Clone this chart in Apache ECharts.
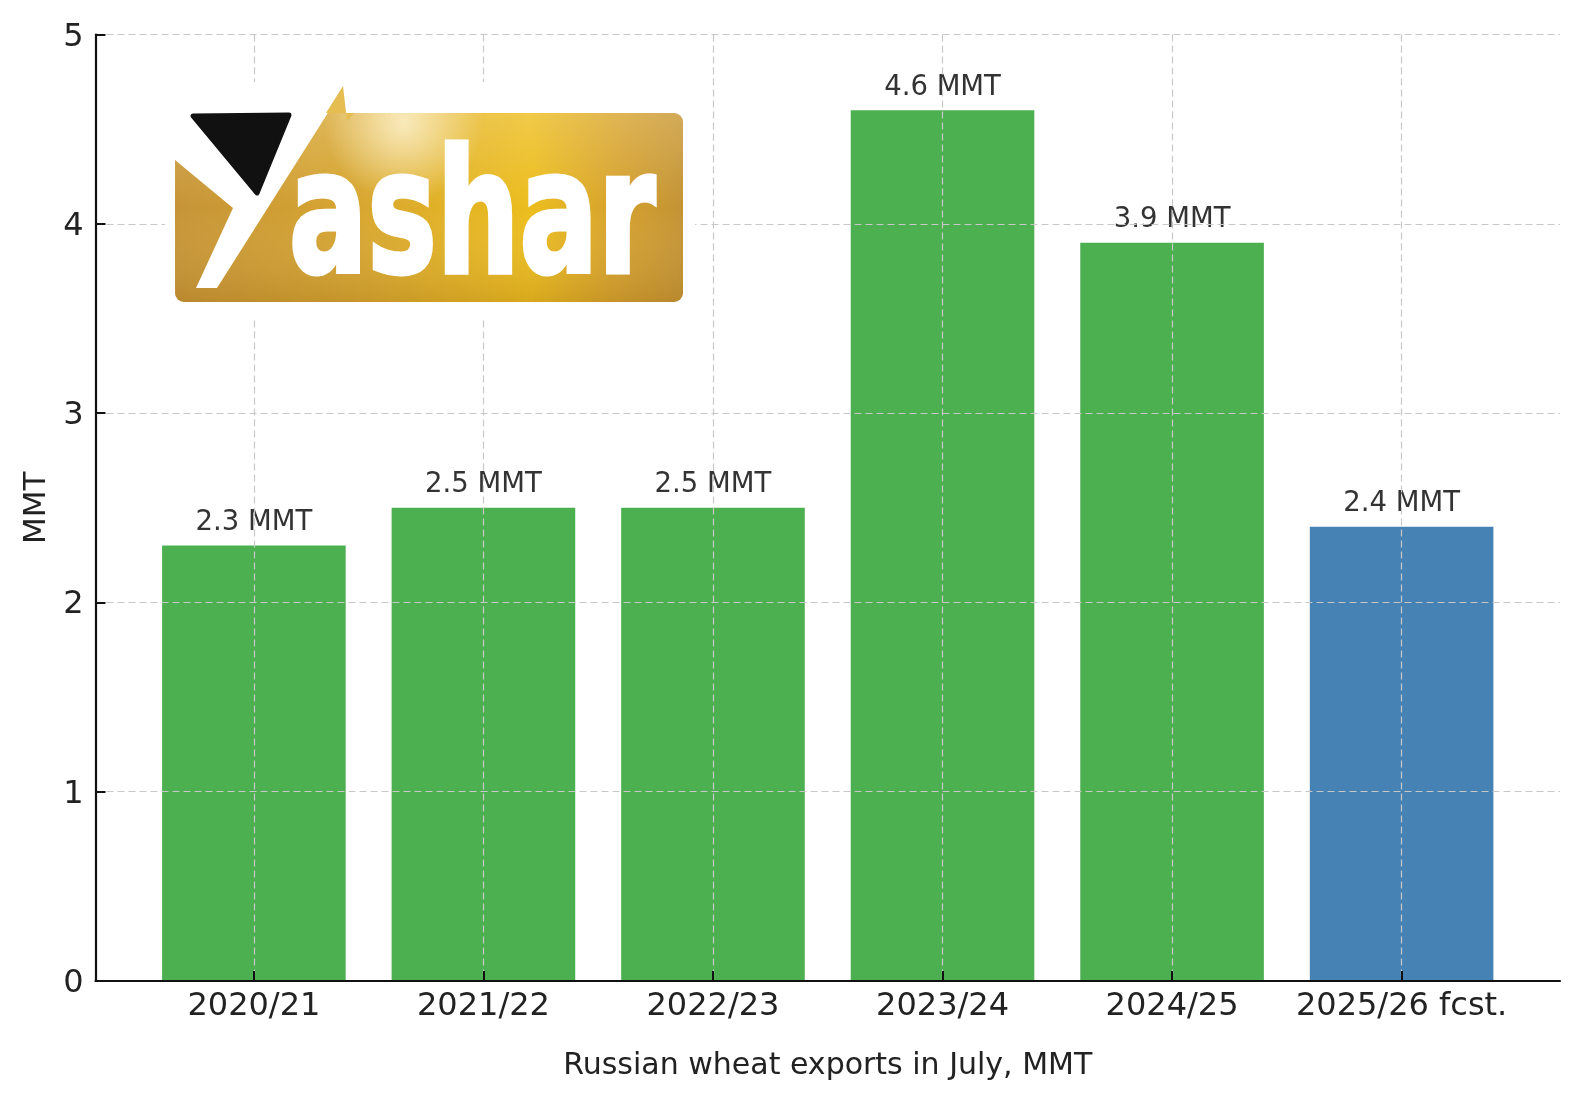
<!DOCTYPE html>
<html>
<head>
<meta charset="utf-8">
<script src="https://cdn.jsdelivr.net/npm/echarts@6/dist/echarts.min.js"></script>
<style>
html,body{margin:0;padding:0;background:#fff;}
#chart{width:1580px;height:1100px;}
</style>
</head>
<body>
<div id="chart"></div>
<script>
const categories = ['2020/21', '2021/22', '2022/23', '2023/24', '2024/25', '2025/26 fcst.'];
const exportsMMT = [2.3, 2.5, 2.5, 4.6, 3.9, 2.4];
const isForecast = [false, false, false, false, false, true];
const yTicks = [0, 1, 2, 3, 4, 5];

const GREEN = '#4caf50';
const BLUE = '#4682b4';
const FONT = '"DejaVu Sans", sans-serif';
const gridLine = { type: [7, 4], color: '#c8c8c8', width: 1.2 };
const xTickPos = categories.map((c, i) => i);

const chart = echarts.init(document.getElementById('chart'), null, { renderer: 'canvas' });

const option = {
  animation: false,
  backgroundColor: '#ffffff',
  grid: { left: 95.5, right: 20, top: 34.5, bottom: 119, containLabel: false },
  xAxis: {
    type: 'value',
    min: -0.69,
    max: 5.69,
    z: 5,
    name: 'Russian wheat exports in July, MMT',
    nameLocation: 'middle',
    nameGap: 70,
    nameTextStyle: { fontSize: 30, color: '#222', fontFamily: FONT },
    axisLine: { show: true, onZero: false, lineStyle: { color: '#111', width: 2.2 } },
    axisTick: { show: true, inside: true, length: 10, customValues: xTickPos, lineStyle: { color: '#111', width: 2 } },
    axisLabel: {
      customValues: xTickPos,
      formatter: v => categories[Math.round(v)],
      fontSize: 32, color: '#222', fontFamily: FONT, margin: 10
    },
    splitLine: { show: true, lineStyle: gridLine }
  },
  yAxis: {
    type: 'value',
    min: yTicks[0],
    max: yTicks[yTicks.length - 1],
    interval: 1,
    z: 5,
    name: 'MMT',
    nameLocation: 'middle',
    nameGap: 41,
    nameTextStyle: { fontSize: 31, color: '#222', fontFamily: FONT },
    axisLine: { show: true, onZero: false, lineStyle: { color: '#111', width: 2.2 } },
    axisTick: { show: true, inside: true, length: 10, lineStyle: { color: '#111', width: 2 } },
    axisLabel: { fontSize: 32, color: '#222', fontFamily: FONT, margin: 12, verticalAlign: 'top', lineHeight: 5.5 },
    splitLine: { show: true, lineStyle: gridLine }
  },
  series: [{
    type: 'bar',
    z: 2,
    barWidth: 183.6,
    data: exportsMMT.map((v, i) => ({ value: [i, v], itemStyle: { color: isForecast[i] ? BLUE : GREEN } })),
    label: {
      show: true,
      position: 'top',
      distance: 8.5,
      formatter: p => p.value[1].toFixed(1) + ' MMT',
      fontSize: 27.5,
      color: '#333',
      fontFamily: FONT
    }
  }],
  graphic: [
    { type: 'rect', z: 100, shape: { x: 165, y: 82, width: 530, height: 236 }, style: { fill: '#ffffff' } },
    { type: 'rect', z: 101, shape: { x: 175, y: 113, width: 508, height: 189, r: 9 },
      style: { fill: { type: 'linear', x: 0, y: 0, x2: 1, y2: 0, colorStops: [
        { offset: 0, color: '#c69436' }, { offset: 0.35, color: '#d6a530' },
        { offset: 0.7, color: '#ecbd1d' }, { offset: 0.88, color: '#d4a02e' }, { offset: 1, color: '#c39334' } ] } } },
    { type: 'rect', z: 102, shape: { x: 175, y: 113, width: 508, height: 189, r: 9 },
      style: { fill: { type: 'linear', x: 0, y: 0, x2: 0, y2: 1, colorStops: [
        { offset: 0, color: 'rgba(255,240,200,0.25)' }, { offset: 0.5, color: 'rgba(255,240,200,0)' },
        { offset: 1, color: 'rgba(140,95,20,0.22)' } ] } } },
    { type: 'rect', z: 103, shape: { x: 175, y: 113, width: 508, height: 189, r: 9 },
      style: { fill: { type: 'radial', x: 0.45, y: 0.05, r: 0.42, colorStops: [
        { offset: 0, color: 'rgba(255,246,215,0.8)' }, { offset: 1, color: 'rgba(255,246,215,0)' } ] } } },
    { type: 'polygon', z: 104, shape: { points: [[170, 108], [331, 108], [217, 288], [196, 288], [233, 208], [175, 160], [170, 160]] },
      style: { fill: '#ffffff' } },
    { type: 'polygon', z: 105, shape: { points: [[326, 113], [343, 86], [347, 121], [354, 113]] }, style: { fill: '#e6bd50' } },
    { type: 'polygon', z: 106, shape: { points: [[193, 116], [289, 115], [257, 193]] },
      style: { fill: '#111111', stroke: '#111111', lineWidth: 5, lineJoin: 'round' } },
    { type: 'text', z: 107, x: 289, y: 228, scaleX: 0.68,
      style: { text: 'ashar', x: 0, y: 0, font: 'bold 171px "DejaVu Sans", sans-serif', fill: '#ffffff',
        stroke: '#ffffff', lineWidth: 5, lineJoin: 'round', align: 'left', verticalAlign: 'middle' } }
  ]
};
chart.setOption(option);
</script>
</body>
</html>
